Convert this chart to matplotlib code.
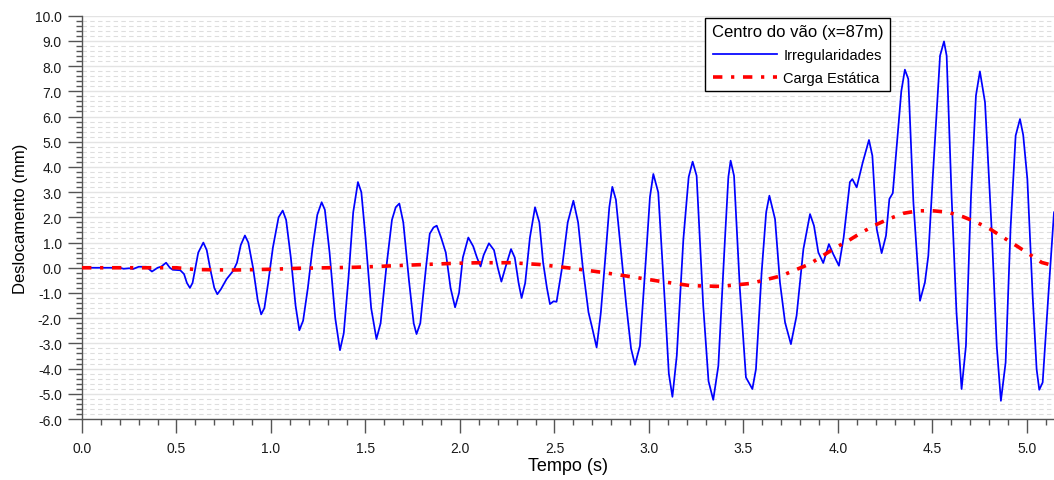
import matplotlib
matplotlib.use('Agg')
import matplotlib.pyplot as plt
from matplotlib.ticker import MultipleLocator, FormatStrFormatter

plt.rcParams['font.family'] = ['Liberation Sans', 'DejaVu Sans']
plt.rcParams['font.size'] = 10

# Irregularidades - deslocamento no centro do vão
t_irreg = [0.00, 0.10, 0.20, 0.22, 0.25, 0.27, 0.30, 0.34, 0.37, 0.40,
           0.42, 0.445, 0.465, 0.48, 0.52, 0.54, 0.555, 0.571, 0.585, 0.600,
           0.615, 0.642, 0.660, 0.680, 0.700, 0.716, 0.735, 0.765, 0.800, 0.820,
           0.840, 0.862, 0.880, 0.905, 0.930, 0.948, 0.965, 0.985, 1.010, 1.040,
           1.062, 1.080, 1.105, 1.130, 1.150, 1.170, 1.195, 1.220, 1.245, 1.268,
           1.285, 1.310, 1.340, 1.365, 1.385, 1.410, 1.435, 1.460, 1.478, 1.500,
           1.530, 1.558, 1.580, 1.610, 1.640, 1.660, 1.679, 1.700, 1.730, 1.755,
           1.770, 1.790, 1.820, 1.840, 1.860, 1.877, 1.900, 1.925, 1.950, 1.974,
           1.995, 2.015, 2.044, 2.070, 2.090, 2.109, 2.125, 2.153, 2.180, 2.200,
           2.219, 2.240, 2.270, 2.290, 2.310, 2.326, 2.345, 2.370, 2.397, 2.420,
           2.440, 2.460, 2.476, 2.495, 2.511, 2.540, 2.570, 2.600, 2.625, 2.650,
           2.680, 2.700, 2.723, 2.745, 2.770, 2.790, 2.806, 2.825, 2.850, 2.880,
           2.905, 2.926, 2.952, 2.985, 3.005, 3.023, 3.049, 3.085, 3.105, 3.124,
           3.147, 3.182, 3.210, 3.231, 3.252, 3.287, 3.315, 3.340, 3.367, 3.402,
           3.420, 3.432, 3.450, 3.481, 3.513, 3.547, 3.566, 3.596, 3.620, 3.637,
           3.667, 3.693, 3.720, 3.751, 3.781, 3.817, 3.852, 3.873, 3.896, 3.922,
           3.952, 3.975, 4.005, 4.030, 4.063, 4.076, 4.099, 4.131, 4.164, 4.182,
           4.205, 4.231, 4.254, 4.272, 4.290, 4.314, 4.335, 4.354, 4.372, 4.399,
           4.434, 4.460, 4.478, 4.501, 4.540, 4.561, 4.575, 4.601, 4.627, 4.654,
           4.677, 4.704, 4.730, 4.751, 4.778, 4.813, 4.840, 4.862, 4.887, 4.913,
           4.940, 4.963, 4.980, 5.002, 5.030, 5.051, 5.065, 5.083, 5.113, 5.143]
y_irreg = [0.00, 0.00, 0.00, -0.04, -0.02, -0.05, 0.04, 0.04, -0.15, 0.00,
           0.05, 0.20, 0.00, -0.08, -0.10, -0.25, -0.60, -0.80, -0.60, 0.00,
           0.60, 1.00, 0.70, -0.10, -0.80, -1.05, -0.85, -0.45, -0.12, 0.20,
           0.90, 1.28, 1.00, 0.00, -1.30, -1.85, -1.60, -0.60, 0.80, 2.00,
           2.27, 1.90, 0.40, -1.50, -2.48, -2.10, -0.80, 0.80, 2.10, 2.60,
           2.30, 0.60, -2.00, -3.27, -2.60, -0.40, 2.20, 3.40, 3.00, 1.20,
           -1.60, -2.83, -2.20, 0.00, 1.90, 2.40, 2.55, 1.80, -0.50, -2.20,
           -2.63, -2.20, 0.00, 1.35, 1.60, 1.67, 1.20, 0.60, -0.80, -1.57,
           -1.00, 0.40, 1.20, 0.85, 0.40, 0.05, 0.50, 0.97, 0.70, 0.00,
           -0.55, 0.00, 0.74, 0.40, -0.60, -1.20, -0.60, 1.20, 2.40, 1.80,
           0.20, -0.80, -1.44, -1.33, -1.35, 0.00, 1.80, 2.66, 1.80, 0.00,
           -1.77, -2.40, -3.16, -1.80, 0.50, 2.40, 3.21, 2.70, 0.80, -1.50,
           -3.20, -3.85, -3.10, 0.50, 2.80, 3.72, 2.99, -1.51, -4.20, -5.12,
           -3.49, 1.14, 3.60, 4.21, 3.65, -1.51, -4.50, -5.24, -3.89, 1.14,
           3.60, 4.25, 3.65, -0.85, -4.35, -4.81, -4.02, -0.18, 2.20, 2.86,
           1.93, -0.58, -2.17, -3.03, -1.90, 0.74, 2.13, 1.67, 0.61, 0.19,
           0.94, 0.54, 0.08, 1.20, 3.40, 3.52, 3.19, 4.18, 5.07, 4.44,
           1.54, 0.58, 1.27, 2.73, 2.96, 5.11, 7.00, 7.86, 7.49, 2.60,
           -1.31, -0.58, 0.48, 3.52, 8.41, 8.98, 8.41, 2.86, -1.77, -4.81,
           -3.10, 2.86, 6.83, 7.79, 6.56, 1.54, -3.10, -5.28, -3.76, 1.54,
           5.24, 5.90, 5.27, 3.52, -1.11, -4.02, -4.84, -4.55, -1.11, 2.20]

# Carga Estática
t_est = [0.0, 0.5, 0.6, 0.8, 1.0, 1.15, 1.3, 1.45, 1.62, 1.78,
         1.95, 2.1, 2.27, 2.42, 2.58, 2.75, 2.91, 3.06, 3.22, 3.38,
         3.54, 3.70, 3.85, 3.99, 4.054, 4.125, 4.196, 4.266, 4.346, 4.425,
         4.504, 4.584, 4.663, 4.734, 4.804, 4.875, 4.945, 5.012, 5.078, 5.143]
y_est = [0.0, 0.0, -0.07, -0.09, -0.06, -0.02, 0.0, 0.02, 0.07, 0.12,
         0.17, 0.20, 0.20, 0.13, -0.01, -0.18, -0.36, -0.54, -0.71, -0.74,
         -0.62, -0.32, 0.15, 0.81, 1.07, 1.40, 1.69, 1.93, 2.16, 2.26,
         2.26, 2.20, 2.02, 1.80, 1.54, 1.20, 0.87, 0.54, 0.21, 0.08]

fig = plt.figure(figsize=(10.54, 4.81), dpi=100)
ax = fig.add_axes([82/1054, 1 - 420/481, 972/1054, 403.3/481])

l1, = ax.plot(t_irreg, y_irreg, color='#0000ff', lw=1.25, label='Irregularidades', zorder=3)
l2, = ax.plot(t_est, y_est, color='#ff0000', lw=2.6, ls=(0, (2.6, 2.4, 0.9, 2.4)),
              label='Carga Estática', zorder=4)

ax.set_xlim(0, 5.143)
ax.set_ylim(-6, 10)

ax.xaxis.set_major_locator(MultipleLocator(0.5))
ax.xaxis.set_minor_locator(MultipleLocator(0.1))
ax.yaxis.set_major_locator(MultipleLocator(1.0))
ax.yaxis.set_minor_locator(MultipleLocator(0.2))
ax.xaxis.set_major_formatter(FormatStrFormatter('%.1f'))
ax.yaxis.set_major_formatter(FormatStrFormatter('%.1f'))

ax.grid(axis='y', which='major', color='#e3e3e3', lw=1.0, ls='-')
ax.grid(axis='y', which='minor', color='#dedede', lw=0.8, ls=(0, (4, 3)))
ax.set_axisbelow(True)

for s in ('top', 'right'):
    ax.spines[s].set_visible(False)
for s in ('left', 'bottom'):
    ax.spines[s].set_color('#555555')
    ax.spines[s].set_linewidth(1.0)

ax.tick_params(which='major', direction='out', length=10, width=1.0,
               color='#555555', labelsize=10, labelcolor='#1a1a1a')
ax.tick_params(which='minor', direction='out', length=4.5, width=1.0, color='#555555')
ax.tick_params(axis='x', which='major', pad=6)
ax.tick_params(axis='y', which='major', pad=4.5)

ax.set_xlabel('Tempo (s)', fontsize=13)
ax.set_ylabel('Deslocamento (mm)', fontsize=12)
ax.xaxis.set_label_coords(0.5, -0.093)
ax.yaxis.set_label_coords(-0.0556, 0.5)

leg = ax.legend(handles=[l1, l2], title='Centro do vão (x=87m)',
                loc='upper right', bbox_to_anchor=(0.831, 0.995), borderaxespad=0,
                fancybox=False, framealpha=1, edgecolor='black', fontsize=10.5,
                title_fontsize=12, handlelength=4.4, handletextpad=0.4,
                labelspacing=0.6, borderpad=0.45)
leg.get_frame().set_linewidth(1.0)

fig.savefig('out.png', dpi=100)
